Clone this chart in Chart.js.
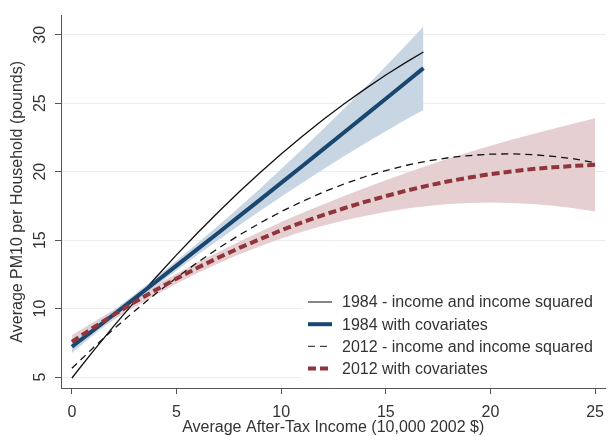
<!DOCTYPE html>
<html>
<head>
<meta charset="utf-8">
<script src="https://cdn.jsdelivr.net/npm/chart.js@4/dist/chart.umd.min.js"></script>
<style>
    html, body { margin: 0; padding: 0; background: #fff; }
    #wrap { width: 613px; height: 436px; }
</style>
</head>
<body>
<div id="wrap"><canvas id="pmChart" width="613" height="436"></canvas></div>
<script>
// income, in 10,000 2002 $
const income1984 = [0, 1, 2, 3, 4, 5, 6, 7, 8, 9, 10, 11, 12, 13, 14, 15, 16, 16.8];
const income2012 = [0, 1, 2, 3, 4, 5, 6, 7, 8, 9, 10, 11, 12, 13, 14, 15, 16, 17, 18, 19, 20, 21, 22, 23, 24, 25];

// 1984
const fit1984 = [4.93, 6.86, 8.72, 10.51, 12.25, 13.92, 15.52, 17.06, 18.53, 19.94, 21.29, 22.57, 23.79, 24.94, 26.03, 27.06, 28.02, 28.74];
const cov1984 = [7.21, 8.39, 9.57, 10.75, 11.94, 13.14, 14.34, 15.54, 16.75, 17.96, 19.18, 20.40, 21.63, 22.86, 24.09, 25.33, 26.57, 27.56];
const cov1984Upper = [7.66, 8.75, 9.88, 11.05, 12.25, 13.50, 14.77, 16.07, 17.41, 18.78, 20.19, 21.62, 23.10, 24.60, 26.13, 27.70, 29.29, 30.61];
const cov1984Lower = [6.76, 8.03, 9.26, 10.45, 11.63, 12.78, 13.91, 15.01, 16.09, 17.14, 18.17, 19.18, 20.16, 21.12, 22.05, 22.96, 23.85, 24.51];

// 2012
const fit2012 = [5.64, 7.11, 8.51, 9.83, 11.08, 12.26, 13.37, 14.41, 15.37, 16.26, 17.08, 17.82, 18.50, 19.10, 19.63, 20.08, 20.47, 20.78, 21.02, 21.18, 21.28, 21.30, 21.25, 21.12, 20.93, 20.66];
const cov2012 = [7.57, 8.58, 9.55, 10.47, 11.35, 12.19, 12.98, 13.72, 14.43, 15.08, 15.72, 16.30, 16.83, 17.33, 17.79, 18.22, 18.62, 18.98, 19.30, 19.58, 19.82, 20.02, 20.19, 20.32, 20.42, 20.50];
const cov2012Upper = [8.07, 8.98, 9.91, 10.82, 11.70, 12.55, 13.36, 14.14, 14.90, 15.61, 16.32, 16.98, 17.61, 18.22, 18.81, 19.38, 19.93, 20.46, 20.96, 21.44, 21.90, 22.33, 22.74, 23.13, 23.51, 23.90];
const cov2012Lower = [7.07, 8.18, 9.19, 10.12, 11.00, 11.83, 12.60, 13.30, 13.96, 14.55, 15.12, 15.62, 16.05, 16.44, 16.77, 17.06, 17.31, 17.50, 17.64, 17.72, 17.74, 17.71, 17.64, 17.51, 17.33, 17.10];

const xTicks = [0, 5, 10, 15, 20, 25];
const yTicks = [5, 10, 15, 20, 25, 30];

const legendLabels = [
    '1984 - income and income squared',
    '1984 with covariates',
    '2012 - income and income squared',
    '2012 with covariates'
];

const FONT = "'Liberation Sans', Arial, sans-serif";
const pts = (xs, ys) => xs.map((x, i) => ({ x: x, y: ys[i] }));

// legend drawn inside the plot, over a white box like the original
const innerLegend = {
    id: 'innerLegend',
    afterDraw(chart) {
        const ctx = chart.ctx;
        const area = chart.chartArea;
        ctx.save();
        ctx.fillStyle = '#fff';
        ctx.fillRect(302, 291, area.right - 302, 93);
        const items = chart.data.datasets.filter(d => d.legendIndex !== undefined)
            .sort((a, b) => a.legendIndex - b.legendIndex);
        items.forEach((d, i) => {
            const y = 302 + i * 22.2;
            ctx.beginPath();
            ctx.strokeStyle = d.legendColor || d.borderColor;
            ctx.lineWidth = d.borderWidth;
            ctx.setLineDash(d.borderDash || []);
            ctx.moveTo(308, y);
            ctx.lineTo(332, y);
            ctx.stroke();
            ctx.setLineDash([]);
            ctx.fillStyle = '#333';
            ctx.font = '16px ' + FONT;
            ctx.textBaseline = 'middle';
            ctx.fillText(legendLabels[d.legendIndex], 342, y + 1);
        });
        ctx.restore();
    }
};

const ctx = document.getElementById('pmChart').getContext('2d');
new Chart(ctx, {
    type: 'line',
    data: {
        datasets: [
            {
                data: pts(income2012, cov2012),
                borderColor: '#90353b',
                borderWidth: 4,
                borderDash: [8, 4],
                legendIndex: 3,
                fill: false
            },
            {
                data: pts(income2012, fit2012),
                borderColor: '#111',
                borderWidth: 1.3,
                borderDash: [7, 5],
                legendColor: '#444',
                legendIndex: 2,
                fill: false
            },
            {
                data: pts(income1984, cov1984),
                borderColor: '#1a476f',
                borderWidth: 4,
                legendIndex: 1,
                fill: false
            },
            {
                data: pts(income1984, fit1984),
                borderColor: '#111',
                borderWidth: 1.3,
                legendColor: '#444',
                legendIndex: 0,
                fill: false
            },
            {
                data: pts(income1984, cov1984Upper),
                borderWidth: 0,
                borderColor: 'rgba(0,0,0,0)',
                backgroundColor: '#c8d5e2',
                fill: '+1'
            },
            {
                data: pts(income1984, cov1984Lower),
                borderWidth: 0,
                borderColor: 'rgba(0,0,0,0)',
                fill: false
            },
            {
                data: pts(income2012, cov2012Upper),
                borderWidth: 0,
                borderColor: 'rgba(0,0,0,0)',
                backgroundColor: '#e6cfd1',
                fill: '+1'
            },
            {
                data: pts(income2012, cov2012Lower),
                borderWidth: 0,
                borderColor: 'rgba(0,0,0,0)',
                fill: false
            }
        ]
    },
    options: {
        responsive: false,
        animation: false,
        layout: { padding: { top: 7, right: 2, left: 0, bottom: 0 } },
        elements: { point: { radius: 0 }, line: { tension: 0 } },
        plugins: {
            legend: { display: false },
            tooltip: { enabled: false },
            filler: { drawTime: 'beforeDatasetsDraw' }
        },
        scales: {
            x: {
                type: 'linear',
                min: -0.52,
                max: 25.5,
                afterBuildTicks: s => { s.ticks = xTicks.map(v => ({ value: v })); },
                afterFit: s => { s.height = 48; },
                grid: { drawOnChartArea: false, tickLength: 6, tickColor: '#555' },
                border: { color: '#555', width: 1 },
                ticks: {
                    color: '#333',
                    padding: 9,
                    maxRotation: 0,
                    font: { family: FONT, size: 16 }
                },
                title: {
                    display: true,
                    text: 'Average After-Tax Income (10,000 2002 $)',
                    color: '#333',
                    padding: { top: 0, bottom: 0 },
                    font: { family: FONT, size: 16, lineHeight: 1.05 }
                }
            },
            y: {
                min: 4.2,
                max: 31.4,
                afterBuildTicks: s => { s.ticks = yTicks.map(v => ({ value: v })); },
                afterFit: s => { s.width = 61; },
                grid: { color: '#ececec', lineWidth: 1, tickLength: 6, tickColor: '#555' },
                border: { color: '#555', width: 1 },
                ticks: {
                    color: '#333',
                    padding: 6,
                    minRotation: 90,
                    maxRotation: 90,
                    crossAlign: 'center',
                    font: { family: FONT, size: 16 }
                },
                title: {
                    display: true,
                    text: 'Average PM10 per Household (pounds)',
                    color: '#333',
                    padding: { top: 9, bottom: 0 },
                    font: { family: FONT, size: 16, lineHeight: 1.05 }
                }
            }
        }
    },
    plugins: [innerLegend]
});
</script>
</body>
</html>
